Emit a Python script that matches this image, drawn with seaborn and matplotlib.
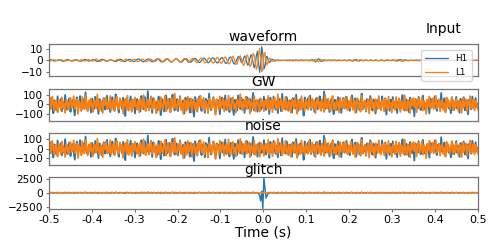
import numpy as np
import pandas as pd
import matplotlib
matplotlib.use("Agg")
import matplotlib.pyplot as plt
import seaborn as sns

# whitened waveform (20 samples per 0.05 s)
waveform_h1 = [
    0.3, 0.6, 0.5, 0.1, -0.3, -0.6, -0.5, -0.1, 0.2, 0.4, 0.3, -0.1, -0.5, -0.7, -0.5, 0.0, 0.5, 0.7, 0.5, 0.1,
    -0.3, -0.6, -0.6, -0.2, 0.3, 0.6, 0.5, 0.1, -0.4, -0.8, -0.7, -0.2, 0.4, 0.8, 0.7, 0.2, -0.3, -0.6, -0.4, 0.0,
    0.4, 0.6, 0.4, -0.1, -0.6, -0.9, -0.7, -0.1, 0.5, 0.9, 0.8, 0.3, -0.3, -0.7, -0.7, -0.3, 0.2, 0.6, 0.6, 0.2,
    -0.3, -0.8, -1.0, -0.7, 0.0, 0.7, 1.1, 0.9, 0.3, -0.4, -0.9, -0.9, -0.4, 0.3, 0.8, 0.9, 0.5, -0.2, -0.8, -1.0,
    -0.6, 0.1, 0.8, 1.2, 1.0, 0.3, -0.5, -1.1, -1.2, -0.6, 0.2, 0.9, 1.2, 0.9, 0.1, -0.7, -1.2, -1.1, -0.4, 0.4,
    1.1, 1.3, 0.8, -0.1, -0.9, -1.4, -1.1, -0.3, 0.6, 1.3, 1.4, 0.7, -0.3, -1.1, -1.5, -1.0, -0.1, 0.8, 1.4, 1.3,
    0.5, -0.5, -1.3, -1.6, -1.0, 0.0, 1.0, 1.6, 1.3, 0.3, -0.8, -1.6, -1.6, -0.7, 0.5, 1.5, 1.8, 1.0, -0.2, -1.3,
    -1.9, -1.4, -0.1, 1.2, 2.0, 1.6, 0.3, -1.1, -2.0, -1.8, -0.6, 0.9, 2.1, 2.1, 0.9, -0.7, -2.0, -2.3, -1.2, 0.5,
    2.0, 2.5, 1.5, -0.4, -2.2, -2.8, -1.6, 0.5, 2.5, 3.0, 1.6, -0.8, -2.9, -3.2, -1.4, 1.2, 3.2, 3.3, 1.1, -1.6,
    -2.0, 1.5, 3.8, 2.5, -1.5, -4.2, -2.8, 1.8, 5.0, 3.5, -2.5, -6.5, -3.5, 4.0, 8.0, -1.0, -10.5, -4.0, 12.0, 6.0,
    -7.5, -5.5, 2.5, 3.5, 0.0, -2.0, -1.0, 0.8, 1.0, 0.0, -0.6, -0.3, 0.2, 0.3, 0.0, -0.3, -0.1, 0.2, 0.1, -0.1,
    0.2, -0.1, -0.3, 0.1, 0.4, 0.2, -0.2, -0.4, 0.0, 0.3, 0.3, -0.1, -0.3, -0.2, 0.2, 0.4, 0.1, -0.3, -0.2, 0.1,
    0.3, 0.0, -0.4, -0.2, 0.3, 0.6, 0.2, -0.5, -1.2, -0.6, 0.8, 1.4, 0.5, -0.7, -0.9, 0.0, 0.5, 0.3, -0.2, -0.3,
    0.1, 0.3, 0.0, -0.3, -0.1, 0.2, 0.3, -0.1, -0.3, -0.1, 0.2, 0.2, -0.1, -0.2, 0.1, 0.3, 0.0, -0.3, -0.2, 0.2,
    0.4, 0.1, -0.4, -0.6, -0.1, 0.5, 0.7, 0.1, -0.5, -0.4, 0.1, 0.3, 0.1, -0.2, -0.1, 0.2, 0.1, -0.2, -0.2, 0.1,
    0.2, -0.1, -0.3, 0.0, 0.3, 0.2, -0.2, -0.4, -0.1, 0.3, 0.4, 0.0, -0.4, -0.3, 0.1, 0.3, 0.2, -0.1, -0.2, 0.0,
    0.2, 0.4, 0.0, -0.5, -0.7, -0.1, 0.6, 0.8, 0.1, -0.6, -0.5, 0.1, 0.4, 0.2, -0.2, -0.3, 0.0, 0.2, 0.1, -0.1,
    -0.2, 0.0, 0.3, 0.2, -0.2, -0.3, 0.0, 0.3, 0.2, -0.1, -0.3, -0.1, 0.2, 0.3, 0.0, -0.3, -0.2, 0.1, 0.2, 0.0,
    -0.1, 0.1, 0.2, 0.0, -0.2, -0.1, 0.1, 0.2, 0.0, -0.2, -0.2, 0.1, 0.2, 0.1, -0.1, -0.2, 0.0, 0.1, 0.1, -0.1,
    -0.1, 0.0, 0.1, 0.1, -0.1, -0.1, 0.0, 0.1, 0.0, -0.1, 0.0, 0.1, 0.1, 0.0, -0.1, -0.1, 0.0, 0.1, 0.0, 0.0,
]
waveform_l1 = [
    -0.2, -0.5, -0.4, 0.0, 0.4, 0.5, 0.3, -0.1, -0.3, -0.2, 0.1, 0.4, 0.5, 0.2, -0.3, -0.6, -0.4, 0.0, 0.3, 0.2,
    0.0, -0.2, 0.1, 0.5, 0.6, 0.2, -0.3, -0.5, -0.2, 0.2, 0.5, 0.3, -0.2, -0.6, -0.5, 0.0, 0.4, 0.6, 0.3, -0.2,
    -0.6, -0.5, 0.1, 0.9, 1.3, 0.7, -0.3, -1.0, -0.9, -0.2, 0.4, 0.6, 0.3, -0.2, -0.5, -0.3, 0.1, 0.4, 0.3, -0.1,
    -0.5, -0.6, -0.1, 0.6, 0.9, 0.5, -0.3, -0.9, -1.0, -0.4, 0.4, 1.0, 1.0, 0.4, -0.4, -0.9, -0.8, -0.2, 0.6, 1.0,
    0.7, -0.1, -0.9, -1.2, -0.7, 0.2, 1.0, 1.2, 0.6, -0.3, -1.0, -1.1, -0.4, 0.5, 1.1, 1.0, 0.3, -0.6, -1.1, -0.9,
    -0.2, 0.7, 1.3, 1.1, 0.3, -0.7, -1.3, -1.2, -0.3, 0.7, 1.4, 1.2, 0.3, -0.8, -1.4, -1.2, -0.2, 0.8, 1.5, 1.1,
    0.1, -1.0, -1.6, -1.2, -0.1, 1.1, 1.7, 1.2, 0.0, -1.2, -1.8, -1.2, 0.2, 1.4, 1.9, 1.1, -0.4, -1.6, -1.9, -0.9,
    0.6, 1.8, 2.0, 0.9, -0.8, -2.0, -2.0, -0.6, 1.2, 2.3, 1.8, 0.1, -1.7, -2.4, -1.4, 0.6, 2.3, 2.5, 0.9, -1.3,
    -2.6, -2.2, -0.2, 2.1, 3.0, 1.7, -0.8, -2.9, -3.0, -0.8, 2.0, 3.5, 2.2, -0.9, -3.4, -3.3, -0.3, 3.0, 4.0, 1.5,
    -2.2, -4.5, -3.0, 1.2, 4.8, 3.8, -1.0, -5.2, -4.5, 0.8, 6.0, 5.0, -2.0, -8.0, -5.0, 4.0, 10.5, 3.0, -10.0, -8.0,
    5.0, 7.0, -1.5, -4.0, -1.0, 2.0, 1.5, -0.5, -1.0, -0.3, 0.5, 0.4, -0.2, -0.3, 0.0, 0.2, 0.1, -0.1, -0.1, 0.0,
    -0.1, 0.2, 0.3, 0.0, -0.3, -0.2, 0.2, 0.4, 0.1, -0.3, -0.3, 0.1, 0.3, 0.1, -0.2, -0.3, 0.0, 0.3, 0.2, -0.1,
    -0.3, -0.1, 0.3, 0.4, -0.1, -0.6, -0.3, 0.5, 1.0, 0.2, -0.9, -1.0, 0.0, 0.8, 0.6, -0.2, -0.5, -0.2, 0.2, 0.3,
    0.0, -0.3, -0.1, 0.2, 0.3, 0.0, -0.3, -0.2, 0.2, 0.3, 0.0, -0.2, -0.2, 0.1, 0.2, 0.0, -0.2, -0.1, 0.2, 0.2,
    -0.1, -0.4, -0.2, 0.3, 0.5, 0.1, -0.5, -0.6, 0.0, 0.5, 0.4, -0.1, -0.3, -0.1, 0.2, 0.2, -0.1, -0.2, 0.0, 0.2,
    0.1, -0.2, -0.2, 0.1, 0.3, 0.1, -0.2, -0.2, 0.1, 0.3, 0.1, -0.3, -0.3, 0.0, 0.3, 0.2, -0.1, -0.2, 0.0, 0.2,
    0.1, -0.2, -0.4, 0.0, 0.5, 0.5, -0.1, -0.6, -0.4, 0.2, 0.5, 0.2, -0.2, -0.3, 0.0, 0.2, 0.1, -0.1, -0.2, 0.0,
    0.2, 0.1, -0.2, -0.2, 0.1, 0.3, 0.1, -0.2, -0.3, 0.0, 0.2, 0.2, -0.1, -0.2, 0.0, 0.2, 0.1, -0.1, -0.1, 0.1,
    0.1, -0.1, -0.2, 0.0, 0.2, 0.1, -0.1, -0.2, 0.0, 0.1, 0.2, 0.0, -0.1, -0.1, 0.1, 0.1, 0.0, -0.1, 0.0, 0.1,
    0.0, -0.1, 0.0, 0.1, 0.0, -0.1, -0.1, 0.0, 0.1, 0.1, 0.0, -0.1, 0.0, 0.1, 0.0, -0.1, 0.0, 0.0, 0.1, 0.0,
]

# detector noise (same samples)
noise_h1 = [
    34, -52, 71, -18, -96, 45, 12, -63, 88, -27, 5, 59, -74, 21, -40, 102, -15, -58, 37, 66,
    -81, 9, 48, -33, -120, 27, 75, -46, 14, 91, -69, -8, 53, -22, 130, -37, -61, 18, 44, -90,
    62, -11, -49, 83, -28, 7, -103, 56, 31, -72, 24, 68, -55, -17, 95, -43, 2, -84, 40, 77,
    -36, -65, 110, 15, -29, -88, 51, 26, -47, 73, -19, -125, 64, 38, -57, 11, 86, -70, -4, 49,
    -98, 30, 57, -41, 20, -76, 92, -13, -52, 81, 6, -35, 142, -60, -23, 47, -91, 69, 16, -44,
    25, -67, 84, -9, -115, 58, 33, -78, 12, 97, -50, -26, 61, -84, 39, 108, -31, -66, 22, 54,
    -73, 17, 90, -56, -12, 43, -99, 71, 28, -38, 65, -87, 3, 52, -46, -135, 79, 19, -62, 35,
    88, -24, -71, 46, 10, -93, 60, 37, -48, 118, -30, -64, 27, 75, -16, -80, 56, -5, 41, -107,
    14, 70, -45, -21, 99, -58, 31, 8, -86, 62, 45, -37, -112, 53, 20, -69, 94, -28, -52, 74,
    -15, 48, -96, 36, 83, -42, -9, 57, -77, 26, 127, -61, -34, 41, -88, 18, 66, -53, 7, -40,
    92, -27, -63, 39, 16, -101, 73, 4, -49, 85, -20, -58, 34, -95, 61, 29, -74, 113, -36, 11,
    -55, 80, 23, -68, 44, -13, -89, 67, 32, -46, 104, -25, -70, 15, 58, -39, 9, -121, 76, 21,
    -43, 63, -18, 96, -59, 5, 42, -82, 28, 71, -54, -11, 87, -66, 24, -33, 139, -48, -20, 55,
    36, -84, 19, 60, -37, -106, 50, 13, -61, 78, -29, 47, -92, 8, 69, -44, -17, 83, -57, 30,
    -72, 41, 98, -31, -14, 65, -87, 22, 49, -63, 7, 117, -52, -26, 39, -79, 58, 12, -45, 91,
    -8, -66, 54, 27, -100, 46, -21, 74, -38, -59, 86, 3, -48, 67, -111, 35, 18, -70, 52, -24,
    79, -41, -16, 62, -93, 29, 45, -57, 10, 101, -34, -67, 56, -6, 43, -85, 72, 24, -50, 38,
    -129, 59, 20, -47, 81, -28, -62, 37, 94, -53, 15, -76, 48, 31, -99, 64, -12, 57, -40, 88,
    -23, -71, 42, 17, -58, 123, -35, -19, 66, -81, 26, 50, -44, 7, -95, 73, 34, -61, 13, 82,
    -47, 28, -90, 61, 19, -36, 77, -64, 4, 45, -108, 52, 30, -55, 85, -17, -42, 69, -26, 10,
]
noise_l1 = [
    -28, 61, -44, 83, 17, -70, 39, -9, -86, 52, 24, -61, 77, -35, 8, -92, 46, 31, -57, 14,
    68, -39, -13, 89, -48, 22, 55, -103, 33, 6, -66, 80, -20, -54, 97, 11, -76, 42, -31, 63,
    -17, -82, 50, 29, -45, 108, -26, -63, 37, 15, -94, 58, -7, 72, -51, 20, -38, 91, -60, -3,
    47, -73, 26, 84, -32, -55, 66, -14, 41, -99, 18, 57, -42, 95, -68, 9, 35, -81, 53, -22,
    74, -19, -58, 40, -87, 63, 12, -46, 101, -30, -72, 28, 49, -64, 16, 87, -53, -24, 60, -40,
    -96, 45, 23, -66, 78, -11, -50, 34, 93, -75, 4, 59, -37, -84, 70, 21, -43, 115, -29, -61,
    38, -15, 82, -56, 13, -105, 47, 26, -69, 86, -33, 2, 64, -90, 31, 54, -47, 19, -78, 67,
    -12, 92, -41, -27, 71, -63, 36, -8, -97, 58, 43, -52, 20, 79, -36, -112, 49, 15, -58, 88,
    -34, 10, 62, -80, 27, 46, -55, 99, -21, -67, 35, 73, -48, 12, -85, 57, 28, -40, 106, -18,
    -62, 44, -25, 81, -54, 19, 67, -95, 30, 8, -43, 85, -70, 24, 51, -32, -88, 63, -6, 40,
    -79, 25, 53, -37, 94, -60, -14, 48, -83, 36, 70, -28, -53, 109, -41, 5, 61, -74, 29, -50,
    83, -22, -65, 42, 11, -89, 56, 33, -47, 76, -18, -101, 45, 23, -59, 90, -35, 14, -71, 52,
    9, -57, 87, -30, -48, 64, -24, 41, -96, 18, 75, -39, 28, -68, 53, 7, -82, 104, -27, -45,
    60, -11, -77, 35, 92, -53, 16, -66, 47, 21, -88, 70, -33, -5, 58, -46, 81, -20, -63, 37,
    -40, 78, -15, -59, 44, -92, 30, 67, -26, 13, -79, 96, -44, 22, 39, -71, 10, 54, -98, 31,
    73, -36, 18, -85, 57, 2, -49, 91, -31, -64, 42, 26, -76, 62, -19, -53, 84, -38, 15, -90,
    48, 27, -61, 80, -44, -17, 66, -82, 35, 12, -58, 99, -23, -70, 45, 19, -95, 59, -12, 71,
    -30, 54, -86, 24, 63, -41, -9, 77, -67, 38, 8, -104, 51, -20, 86, -47, -29, 65, -52, 17,
    93, -43, -18, 56, -75, 32, 49, -60, 14, -88, 74, -25, 40, -56, 11, 82, -64, 28, -37, 61,
    -8, -71, 46, 20, -93, 67, -32, 15, 58, -79, 36, -12, 90, -48, -27, 53, -66, 41, 7, -55,
]

# blip glitch in H1 only, starting at sample 195
glitch_start = 195
glitch_h1 = [-100, -600, -1400, 300, -2800, 2600, 900, -900, -500, -150, 0]

panel_titles = ['waveform', 'GW', 'noise', 'glitch']
panel_ylims = [(-14, 14), (-175, 170), (-175, 170), (-2900, 2800)]
panel_yticks = [[-10, 0, 10], [-100, 0, 100], [-100, 0, 100], [-2500, 0, 2500]]
detectors = ['H1', 'L1']
xticks = [-0.5, -0.4, -0.3, -0.2, -0.1, 0.0, 0.1, 0.2, 0.3, 0.4, 0.5]

n = len(noise_h1)
time = np.linspace(-0.5, 0.5, n)

wf = {'H1': np.array(waveform_h1), 'L1': np.array(waveform_l1)}
nz = {'H1': np.array(noise_h1, dtype=float), 'L1': np.array(noise_l1, dtype=float)}
gl = {'H1': nz['H1'].copy(), 'L1': nz['L1'].copy()}
gl['H1'][glitch_start:glitch_start + len(glitch_h1)] += np.array(glitch_h1)

panels = {
    'waveform': wf,
    'GW': {d: nz[d] + wf[d] for d in detectors},
    'noise': nz,
    'glitch': gl,
}

frames = []
for name, series in panels.items():
    for d in detectors:
        frames.append(pd.DataFrame({'time': time, 'strain': series[d], 'detector': d, 'panel': name}))
df = pd.concat(frames, ignore_index=True)

sns.set_theme(style='ticks', rc={
    'axes.edgecolor': '0.45',
    'axes.linewidth': 0.9,
    'xtick.major.size': 2.5,
    'ytick.major.size': 2.5,
    'xtick.major.width': 0.8,
    'ytick.major.width': 0.8,
    'text.color': 'black',
    'axes.labelcolor': 'black',
    'xtick.color': 'black',
    'ytick.color': 'black',
})
plt.rcParams['font.family'] = ['DejaVu Sans']

fig, axes = plt.subplots(4, 1, figsize=(4.93, 2.47), dpi=100)
fig.subplots_adjust(left=0.0994, right=0.969, top=0.82, bottom=0.154, hspace=0.39)

palette = {'H1': '#1f77b4', 'L1': '#ff7f0e'}
line_widths = [0.9, 1.3, 1.3, 1.0]
for i, ax in enumerate(axes):
    name = panel_titles[i]
    sub = df[df['panel'] == name]
    sns.lineplot(data=sub, x='time', y='strain', hue='detector', palette=palette,
                 estimator=None, sort=False, linewidth=line_widths[i], ax=ax, legend=(i == 0))
    ax.set_xlim(-0.5, 0.5)
    ax.set_ylim(*panel_ylims[i])
    ax.set_yticks(panel_yticks[i])
    ax.tick_params(axis='y', labelsize=7.6, pad=1.5, color='0.45')
    ax.set_ylabel('')
    ax.set_xlabel('')
    ax.set_title(name, fontsize=10, pad=1.5, color='black')
    if i < 3:
        ax.set_xticks([])
    else:
        ax.set_xticks(xticks)
        ax.set_xticklabels(['%.1f' % v if v != 0 else '0.0' for v in xticks])
        ax.tick_params(axis='x', labelsize=8, pad=1.5, color='0.45')
        ax.set_xlabel('Time (s)', fontsize=10, labelpad=1, color='black')

leg = axes[0].legend(loc='upper right', fontsize=6.3, handlelength=2.6, borderpad=0.5,
                     labelspacing=0.5, framealpha=0.8, bbox_to_anchor=(0.996, 0.96))
leg.set_title(None)
for t in leg.get_texts():
    t.set_color('black')

fig.text(0.899, 0.883, 'Input', ha='center', va='center', fontsize=10, color='black')

fig.savefig('out.png', dpi=100)
